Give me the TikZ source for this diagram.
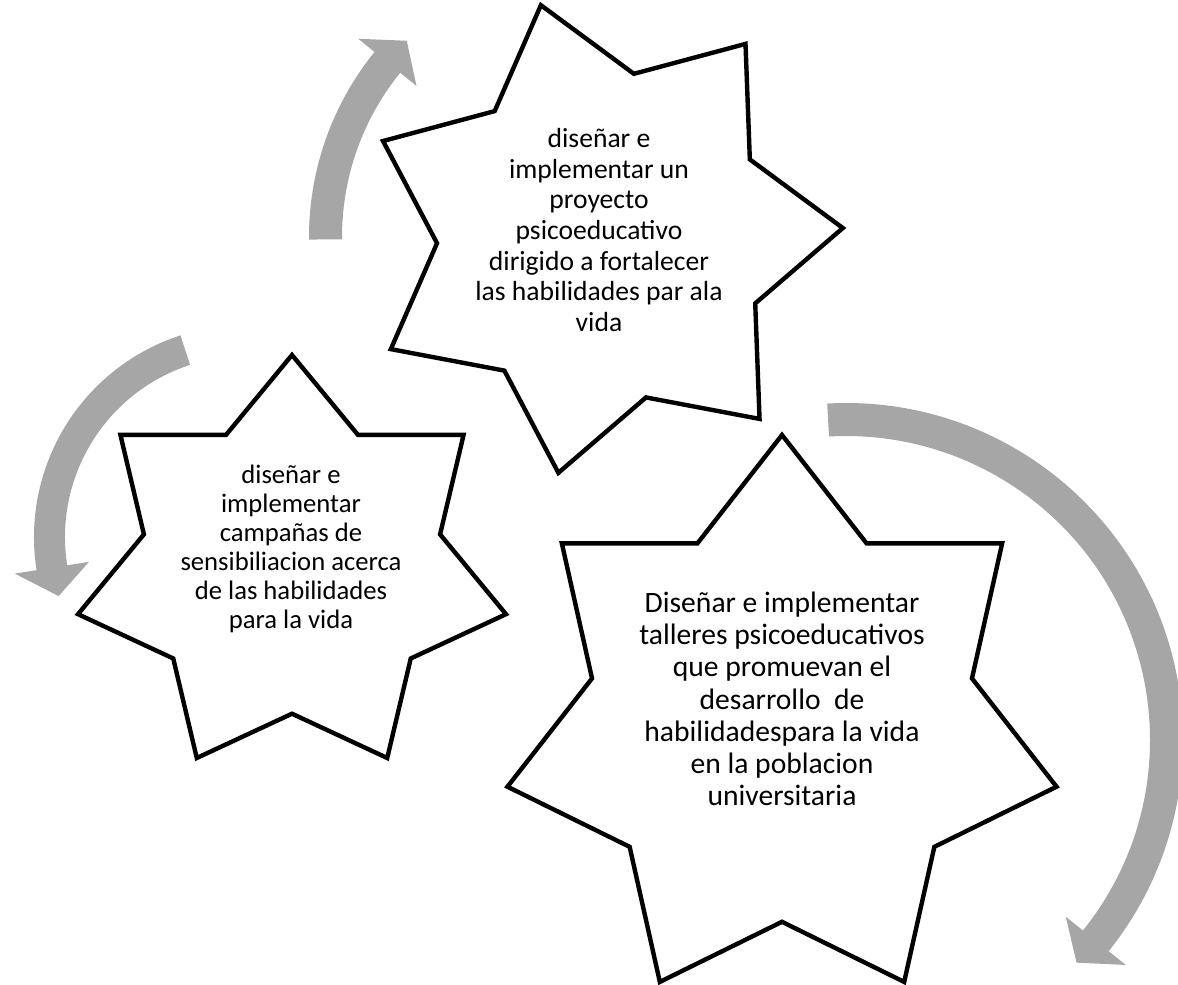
\documentclass[tikz,border=0pt]{standalone}
\usepackage{fontspec}
\setmainfont{Carlito}
\usetikzlibrary{calc}
\definecolor{arrowgray}{RGB}{166,166,166}
\tikzset{
  starline/.style={draw=black, line width=3.3pt, fill=white, line join=miter},
  startext/.style={align=center, inner sep=0pt, text=black},
  cyclearrow/.style={fill=arrowgray, draw=none},
}
% star with 7 points: cx, cy (image px, y down), rx, ry, rotation
\newcommand\drawstarseven[5]{%
  \path[starline] ({#1+#3*cos(90+#5)},{-#2+#4*sin(90+#5)})
    \foreach \k in {1,...,13}{
      -- ({#1+#3*(1-0.30798*mod(\k,2))*cos(90+#5+\k*180/7)},{-#2+#4*(1-0.30798*mod(\k,2))*sin(90+#5+\k*180/7)})
    } -- cycle;
}
% circular arrow: cx, cy, Rin, Rout, start angle, end angle, tip angle, wing
\newcommand\drawcyclearrow[8]{%
  \fill[cyclearrow] ({#1+#4*cos(#5)},{-#2+#4*sin(#5)})
    arc[start angle=#5, end angle=#6, radius=#4]
    -- ({#1+(#4+#8)*cos(#6)},{-#2+(#4+#8)*sin(#6)})
    -- ({#1+(#3+#4)/2*cos(#7)},{-#2+(#3+#4)/2*sin(#7)})
    -- ({#1+(#3-#8)*cos(#6)},{-#2+(#3-#8)*sin(#6)})
    -- ({#1+#3*cos(#6)},{-#2+#3*sin(#6)})
    arc[start angle=#6, end angle=#5, radius=#3]
    -- cycle;
}
\begin{document}
\begin{tikzpicture}[x=0.75pt, y=0.75pt]
  \useasboundingbox (0,0) rectangle (1178,-985);
  \clip (0,0) rectangle (1178,-985);
  % arrows
  \drawcyclearrow{603}{237}{261}{294}{180.5}{141}{135}{21}
  \drawcyclearrow{246}{537}{181}{212}{108}{189}{197.5}{22}
  \drawcyclearrow{846}{740}{304}{337}{93.2}{-38.8}{-44}{22}
  % stars
  \drawstarseven{603}{237}{240}{240}{15}
  \drawstarseven{292}{567}{219.5}{212}{0}
  \drawstarseven{782}{722.7}{281.6}{287.7}{0}
  % texts
  \node[startext, font=\fontsize{20.7}{22.9}\selectfont] (topgoal) at (599,-230)
    {diseñar e\\implementar un\\proyecto\\psicoeducativo\\dirigido a fortalecer\\las habilidades par ala\\vida};
  \node[startext, font=\fontsize{20}{21.75}\selectfont] (leftgoal) at (291,-549)
    {diseñar e\\implementar\\campañas de\\sensibiliacion acerca\\de las habilidades\\para la vida};
  \node[startext, font=\fontsize{22.2}{24.2}\selectfont] (rightgoal) at (782,-699)
    {Diseñar e implementar\\talleres psicoeducativos\\que promuevan el\\desarrollo\ \ de\\habilidadespara la vida\\en la poblacion\\universitaria};
\end{tikzpicture}
\end{document}
